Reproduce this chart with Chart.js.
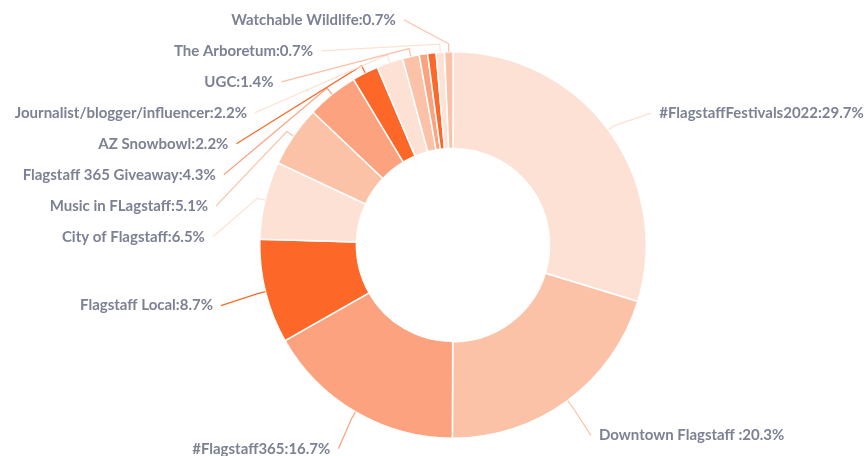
<!DOCTYPE html>
<html><head><meta charset="utf-8">
<script src="https://cdn.jsdelivr.net/npm/chart.js@4"></script>
<style>html,body{margin:0;padding:0;background:#fff}#wrap{width:867px;height:456px;position:relative}</style>
</head><body><div id="wrap"><canvas id="c"></canvas></div>
<script>
const categories = ["#FlagstaffFestivals2022", "Downtown Flagstaff ", "#Flagstaff365", "Flagstaff Local",
  "City of Flagstaff", "Music in FLagstaff", "Flagstaff 365 Giveaway", "AZ Snowbowl",
  "Journalist/blogger/influencer", "UGC", "", "", "The Arboretum", "Watchable Wildlife"];
const shares = [29.7, 20.3, 16.7, 8.7, 6.5, 5.1, 4.3, 2.2, 2.2, 1.4, 0.7, 0.7, 0.7, 0.7];
const palette = ["#fde1d4", "#fcc2a7", "#fca27e", "#fd6828"];

const sliceColors = shares.map((_, i) => palette[i % palette.length]);

const labelPlugin = {
  id: 'outerLabels',
  afterDatasetsDraw(chart) {
    const ctx = chart.ctx;
    const meta = chart.getDatasetMeta(0);
    const items = [];
    meta.data.forEach((arc, i) => {
      if (!categories[i]) return;
      const p = arc.getProps(['x', 'y', 'startAngle', 'endAngle', 'outerRadius'], true);
      const a = (p.startAngle + p.endAngle) / 2;
      const r = p.outerRadius;
      items.push({
        i, a, r, Rx: r + 35, cx: p.x, cy: p.y,
        side: Math.cos(a) >= 0 ? 1 : -1,
        ty: p.y + Math.sin(a) * (r + 37) + 5,
        text: categories[i] + ':' + shares[i] + '%'
      });
    });
    const gap = 31;
    [1, -1].forEach(side => {
      const list = items.filter(d => d.side === side).sort((u, v) => u.ty - v.ty);
      let prev = -Infinity;
      list.forEach(d => {
        d.y = Math.max(d.ty, prev + gap);
        prev = d.y;
      });
    });
    ctx.save();
    ctx.font = 'bold 15px Lato';
    ctx.textBaseline = 'middle';
    items.forEach(d => {
      const dy = d.y - d.cy;
      const dx = Math.sqrt(Math.max(d.Rx * d.Rx - dy * dy, 0));
      const lineEndX = d.cx + d.side * (dx + 12);
      const textX = d.cx + d.side * (dx + 20);
      const x0 = d.cx + Math.cos(d.a) * d.r, y0 = d.cy + Math.sin(d.a) * d.r;
      const x1 = d.cx + Math.cos(d.a) * (d.r + 8), y1 = d.cy + Math.sin(d.a) * (d.r + 8);
      ctx.strokeStyle = sliceColors[d.i];
      ctx.lineWidth = 1.2;
      ctx.beginPath();
      ctx.moveTo(x0, y0);
      ctx.lineTo(x1, y1);
      ctx.lineTo(lineEndX, d.y);
      ctx.stroke();
      ctx.fillStyle = '#7c8194';
      ctx.textAlign = d.side > 0 ? 'left' : 'right';
      ctx.fillText(d.text, textX, d.y);
    });
    ctx.restore();
  }
};

new Chart(document.getElementById('c'), {
  type: 'doughnut',
  data: {
    labels: categories,
    datasets: [{
      data: shares,
      backgroundColor: sliceColors,
      borderColor: '#ffffff',
      borderWidth: 1.5
    }]
  },
  options: {
    responsive: true,
    maintainAspectRatio: false,
    animation: false,
    cutout: '50%',
    layout: { padding: { top: 51, bottom: 17, left: 259, right: 220 } },
    plugins: { legend: { display: false }, tooltip: { enabled: false } }
  },
  plugins: [labelPlugin]
});
</script>
</body></html>
